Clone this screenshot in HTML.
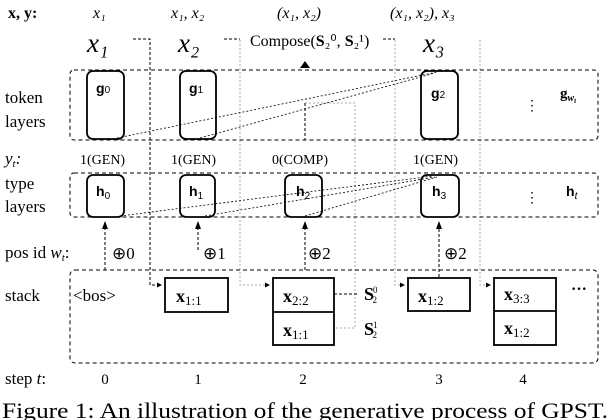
<!DOCTYPE html>
<html><head><meta charset="utf-8"><style>
html,body{margin:0;padding:0;background:#fff;}
svg{display:block;}
text{font-family:"Liberation Serif",serif;fill:#000;}
.s{font-family:"Liberation Sans",sans-serif;}
</style></head><body>
<svg width="610" height="420" viewBox="0 0 610 420" xmlns="http://www.w3.org/2000/svg">
<defs>
<marker id="a" markerWidth="8" markerHeight="8" refX="7" refY="4" orient="auto" markerUnits="userSpaceOnUse"><path d="M0,1 L8,4 L0,7 z" fill="#000"/></marker>
<marker id="b" markerWidth="5" markerHeight="5" refX="5" refY="2.5" orient="auto" markerUnits="userSpaceOnUse"><path d="M0,0 L5,2.5 L0,5 z" fill="#000"/></marker>
</defs>
<!-- header -->
<text x="8" y="18" font-size="16" font-weight="bold">x, y:</text>
<text x="93" y="18" font-size="16" font-style="italic">x₁</text>
<text x="171" y="18" font-size="16" font-style="italic">x₁, x₂</text>
<text x="277" y="18" font-size="16" font-style="italic">(x₁, x₂)</text>
<text x="390" y="18" font-size="16" font-style="italic">(x₁, x₂), x₃</text>
<text x="87" y="52" font-size="27" font-style="italic">x₁</text>
<text x="178" y="52" font-size="27" font-style="italic">x₂</text>
<text x="250" y="46" font-size="16">Compose(<tspan font-weight="bold">S</tspan>₂⁰, <tspan font-weight="bold">S</tspan>₂¹)</text>
<text x="423" y="52" font-size="27" font-style="italic">x₃</text>
<!-- grey verticals -->
<g stroke="#aaa" stroke-width="1" stroke-dasharray="2,2" fill="none">
<path d="M240,40 V285 H270"/>
<path d="M395,40 V285 H405"/>
<path d="M480,40 V285 H491"/>
<path d="M305,103 H355 V328 H334"/>
</g>
<g stroke="#000" stroke-width="1" stroke-dasharray="3,2" fill="none">
<path d="M133,39 H150 V285 H162" marker-end="url(#b)"/>
<path d="M224,39 H240"/>
<path d="M383,39 H395"/>
<path d="M305,103 V140"/>
<path d="M334,294 H357"/>
<path d="M105,270 V222" marker-end="url(#a)"/>
<path d="M198,250 V222" marker-end="url(#a)"/>
<path d="M305,270 V222" marker-end="url(#a)"/>
<path d="M439,277 V222" marker-end="url(#a)"/>
</g>
<path d="M240,285 H270" stroke="#000" stroke-width="0" marker-end="url(#b)"/>
<path d="M395,285 H405" stroke="#000" stroke-width="0" marker-end="url(#b)"/>
<path d="M480,285 H491" stroke="#000" stroke-width="0" marker-end="url(#b)"/>
<path d="M300,68 L305,61 L310,68 z" fill="#000"/>
<!-- layer boxes -->
<g stroke="#000" stroke-width="1" stroke-dasharray="4,3" fill="none">
<rect x="70" y="70" width="528" height="70" rx="4"/>
<rect x="70" y="173" width="528" height="44" rx="4"/>
<rect x="70" y="270" width="528" height="93" rx="5"/>
</g>
<!-- labels left -->
<text x="5" y="103" font-size="17">token</text>
<text x="5" y="127" font-size="17">layers</text>
<text x="5" y="164" font-size="17" font-style="italic">y<tspan font-size="11" dy="3">t</tspan><tspan dy="-3">:</tspan></text>
<text x="5" y="189" font-size="17">type</text>
<text x="5" y="212" font-size="17">layers</text>
<text x="5" y="258" font-size="17">pos id <tspan font-style="italic">w</tspan><tspan font-size="11" font-style="italic" dy="3">t</tspan><tspan dy="-3">:</tspan></text>
<text x="5" y="301" font-size="17">stack</text>
<text x="5" y="384" font-size="17">step <tspan font-style="italic">t</tspan>:</text>
<!-- g boxes -->
<g stroke="#000" stroke-width="1.8" fill="#fff">
<rect x="87" y="71" width="37" height="68" rx="6"/>
<rect x="180" y="71" width="36" height="68" rx="6"/>
<rect x="421" y="71" width="37" height="68" rx="6"/>
<rect x="87" y="175" width="37" height="42" rx="6"/>
<rect x="180" y="175" width="35" height="42" rx="6"/>
<rect x="285" y="175" width="37" height="42" rx="6"/>
<rect x="421" y="175" width="38" height="42" rx="6"/>
</g>
<g stroke="#000" stroke-width="0.8" stroke-dasharray="2,2" fill="none">
<path d="M117,138 L437,72"/><path d="M200,138 L435,73"/>
<path d="M120,216 L433,176"/><path d="M205,216 L435,177"/><path d="M305,216 L437,177"/>
</g>
<text x="96" y="93" font-size="14" class="s" font-weight="bold">g<tspan font-weight="normal" font-size="10">0</tspan></text>
<text x="189" y="93" font-size="14" class="s" font-weight="bold">g<tspan font-weight="normal" font-size="10">1</tspan></text>
<text x="431" y="98" font-size="14" class="s" font-weight="bold">g<tspan font-weight="normal" font-size="10">2</tspan></text>
<text x="560" y="98" font-size="15" font-weight="bold">g<tspan font-size="10" font-style="italic" dy="3">w</tspan><tspan font-size="7" font-style="italic" dy="2">t</tspan></text>
<text x="525" y="110" font-size="14" class="s">⋮</text>
<text x="96" y="196" font-size="14" class="s" font-weight="bold">h<tspan font-weight="normal" font-size="10" dy="3">0</tspan></text>
<text x="189" y="196" font-size="14" class="s" font-weight="bold">h<tspan font-weight="normal" font-size="10" dy="3">1</tspan></text>
<text x="296" y="196" font-size="14" class="s" font-weight="bold">h<tspan font-weight="normal" font-size="10" dy="3">2</tspan></text>
<text x="432" y="196" font-size="14" class="s" font-weight="bold">h<tspan font-weight="normal" font-size="10" dy="3">3</tspan></text>
<text x="566" y="196" font-size="14" class="s" font-weight="bold">h<tspan font-weight="normal" font-style="italic" font-size="10" dy="3">t</tspan></text>
<text x="525" y="202" font-size="14" class="s">⋮</text>
<text x="80" y="164" font-size="14">1(GEN)</text>
<text x="171" y="164" font-size="14">1(GEN)</text>
<text x="272" y="164" font-size="14">0(COMP)</text>
<text x="413" y="164" font-size="14">1(GEN)</text>
<text x="112" y="259" font-size="17">⊕0</text>
<text x="203" y="259" font-size="17">⊕1</text>
<text x="308" y="259" font-size="17">⊕2</text>
<text x="444" y="259" font-size="17">⊕2</text>
<!-- stack -->
<text x="73" y="301" font-size="17">&lt;bos&gt;</text>
<g stroke="#000" stroke-width="1.8" fill="#fff">
<rect x="165" y="278" width="63" height="34"/>
<rect x="273" y="278" width="61" height="67"/><line x1="273" y1="312" x2="334" y2="312"/>
<rect x="408" y="278" width="62" height="33"/>
<rect x="494" y="278" width="62" height="67"/><line x1="494" y1="311" x2="556" y2="311"/>
</g>
<g font-size="18" font-weight="bold">
<text x="176" y="302">x<tspan font-size="13" font-weight="normal" dy="3">1:1</tspan></text>
<text x="283" y="302">x<tspan font-size="13" font-weight="normal" dy="3">2:2</tspan></text>
<text x="283" y="336">x<tspan font-size="13" font-weight="normal" dy="3">1:1</tspan></text>
<text x="418" y="302">x<tspan font-size="13" font-weight="normal" dy="3">1:2</tspan></text>
<text x="504" y="300">x<tspan font-size="13" font-weight="normal" dy="3">3:3</tspan></text>
<text x="504" y="334">x<tspan font-size="13" font-weight="normal" dy="3">1:2</tspan></text>
<text x="364" y="300">S<tspan font-size="9" font-weight="normal" dx="-1" dy="-7">0</tspan><tspan font-size="9" font-weight="normal" dx="-5" dy="10">2</tspan></text>
<text x="364" y="335">S<tspan font-size="9" font-weight="normal" dx="-1" dy="-7">1</tspan><tspan font-size="9" font-weight="normal" dx="-5" dy="10">2</tspan></text>
</g>
<text x="571" y="294" font-size="16" font-weight="bold">···</text>
<g font-size="15" text-anchor="middle">
<text x="105" y="384">0</text><text x="198" y="384">1</text><text x="303" y="384">2</text><text x="439" y="384">3</text><text x="523" y="384">4</text>
</g>
<text x="2" y="418" font-size="22" textLength="606" lengthAdjust="spacingAndGlyphs">Figure 1: An illustration of the generative process of GPST.</text>
</svg>
</body></html>
